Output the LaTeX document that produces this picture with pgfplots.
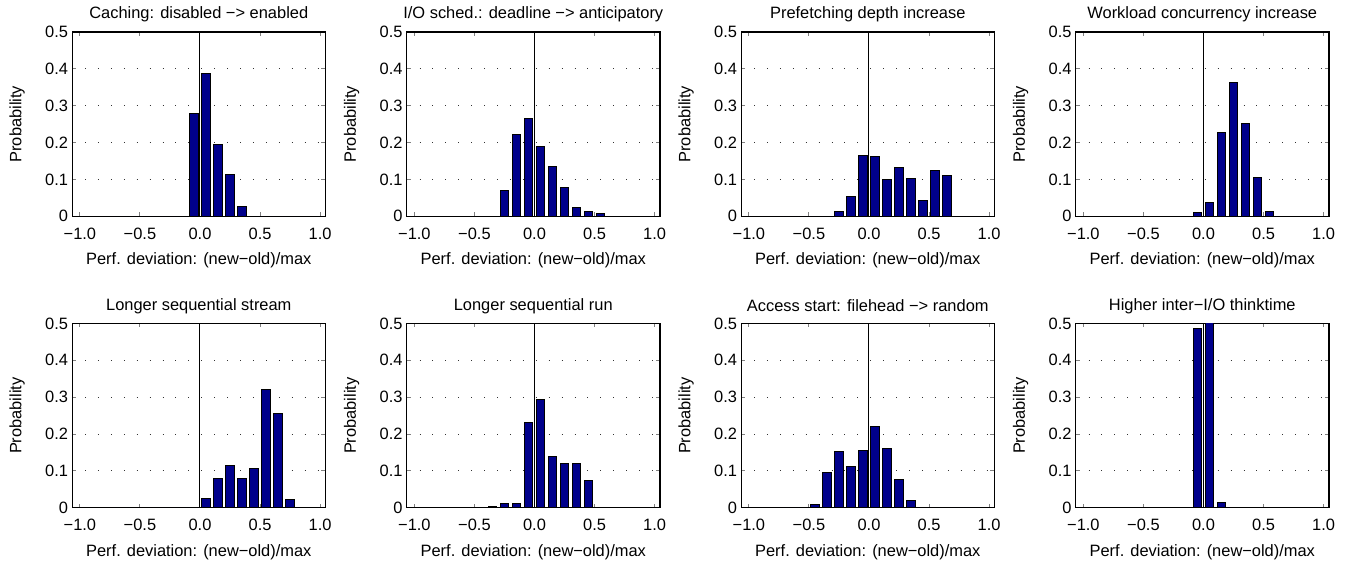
\documentclass[border=0pt]{standalone}
\usepackage{fontspec}
\setmainfont{Liberation Sans}
\usepackage{pgfplots}
\usepackage{pgfplotstable}
\pgfplotsset{compat=1.18}
\usepgfplotslibrary{groupplots}
\definecolor{barblue}{RGB}{0,0,139}

% histogram bins (centre) and probability per panel
\pgfplotstableread{
x      p1    p2    p3    p4    p5    p6    p7    p8
-0.95  0     0     0     0     0     0     0     0
-0.85  0     0     0     0     0     0     0     0
-0.75  0     0     0     0     0     0     0     0
-0.65  0     0     0     0     0     0     0     0
-0.55  0     0     0     0     0     0     0     0
-0.45  0     0     0     0     0     0     0.010 0
-0.35  0     0     0     0     0     0.003 0.095 0
-0.25  0     0.070 0.012 0     0     0.011 0.154 0
-0.15  0     0.223 0.055 0     0     0.011 0.112 0
-0.05  0.278 0.265 0.166 0.010 0     0.230 0.156 0.487
0.05   0.388 0.190 0.162 0.037 0.026 0.293 0.220 0.520
0.15   0.195 0.135 0.099 0.228 0.079 0.139 0.162 0.015
0.25   0.113 0.077 0.133 0.362 0.114 0.119 0.077 0
0.35   0.028 0.025 0.103 0.252 0.080 0.120 0.021 0
0.45   0     0.013 0.042 0.104 0.107 0.074 0     0
0.55   0     0.008 0.123 0.013 0.320 0.001 0     0
0.65   0     0     0.112 0     0.256 0     0     0
0.75   0     0     0     0     0.022 0     0     0
0.85   0     0     0     0     0     0     0     0
0.95   0     0     0     0     0     0     0     0
}\hist

\newcommand\lblfont{\fontsize{8.2}{9.5}\selectfont}

\pgfplotsset{
  histo/.style={
    width=126.5pt, height=92pt, scale only axis,
    xmin=-1.065, xmax=1.045, ymin=0, ymax=0.5,
    xtick={-1,-0.5,0,0.5,1},
    xticklabels={−1.0,−0.5,0.0,0.5,1.0},
    ytick={0,0.1,0.2,0.3,0.4,0.5},
    yticklabels={0,0.1,0.2,0.3,0.4,0.5},
    tick align=inside, major tick length=2pt,
    ymajorgrids,
    major grid style={black!80, line width=0.45pt, dash pattern=on 0.45pt off 6pt},
    axis line style={line width=0.6pt},
    tick style={line width=0.5pt},
    tick label style={font=\lblfont},
    xticklabel style={anchor=center, yshift=-8.5pt},
    yticklabel style={anchor=east, xshift=1.5pt},
    every axis title/.style={at={(axis description cs:0.5,1)}, anchor=center, yshift=8.8pt, font=\lblfont},
    every axis x label/.style={at={(axis description cs:0.5,0)}, anchor=center, yshift=-22pt, font=\lblfont},
    every axis y label/.style={at={(axis description cs:0,0.5)}, rotate=90, anchor=center, yshift=27.5pt, font=\lblfont},
    xlabel={Perf. deviation: (new−old)/max},
    ylabel={Probability},
  },
  bars/.style={ybar, bar width=0.072, fill=barblue, draw=black, line width=0.5pt},
  zeroline/.style={black, line width=0.5pt, sharp plot, no marks, forget plot},
  baseline/.style={black, line width=1pt, sharp plot, no marks, forget plot},
}

\begin{document}
\begin{tikzpicture}
\begin{groupplot}[group style={group size=4 by 2, horizontal sep=40.5pt, vertical sep=53.5pt}, histo]
\nextgroupplot[title={Caching: disabled −> enabled}]
\coordinate (tl) at (rel axis cs:0,1);
\addplot[bars] table[x=x, y=p1] {\hist};
\addplot[zeroline] coordinates {(0,0) (0,0.5)};
\nextgroupplot[title={I/O sched.: deadline −> anticipatory}]
\addplot[bars] table[x=x, y=p2] {\hist};
\addplot[zeroline] coordinates {(0,0) (0,0.5)};
\nextgroupplot[title={Prefetching depth increase}]
\addplot[bars] table[x=x, y=p3] {\hist};
\addplot[zeroline] coordinates {(0,0) (0,0.5)};
\nextgroupplot[title={Workload concurrency increase}]
\addplot[bars] table[x=x, y=p4] {\hist};
\addplot[zeroline] coordinates {(0,0) (0,0.5)};
\nextgroupplot[title={Longer sequential stream}]
\addplot[bars] table[x=x, y=p5] {\hist};
\addplot[zeroline] coordinates {(0,0) (0,0.5)};
\nextgroupplot[title={Longer sequential run}]
\addplot[bars] table[x=x, y=p6] {\hist};
\addplot[zeroline] coordinates {(0,0) (0,0.5)};
\nextgroupplot[title={Access start: filehead −> random}]
\addplot[bars] table[x=x, y=p7] {\hist};
\addplot[zeroline] coordinates {(0,0) (0,0.5)};
\nextgroupplot[title={Higher inter−I/O thinktime}]
\coordinate (br) at (rel axis cs:1,0);
\addplot[bars] table[x=x, y=p8] {\hist};
\addplot[zeroline] coordinates {(0,0) (0,0.5)};
\end{groupplot}
\pgfresetboundingbox
\path[use as bounding box] ([xshift=-36pt,yshift=16pt]tl) rectangle ([xshift=9.5pt,yshift=-28pt]br);
\end{tikzpicture}
\end{document}
